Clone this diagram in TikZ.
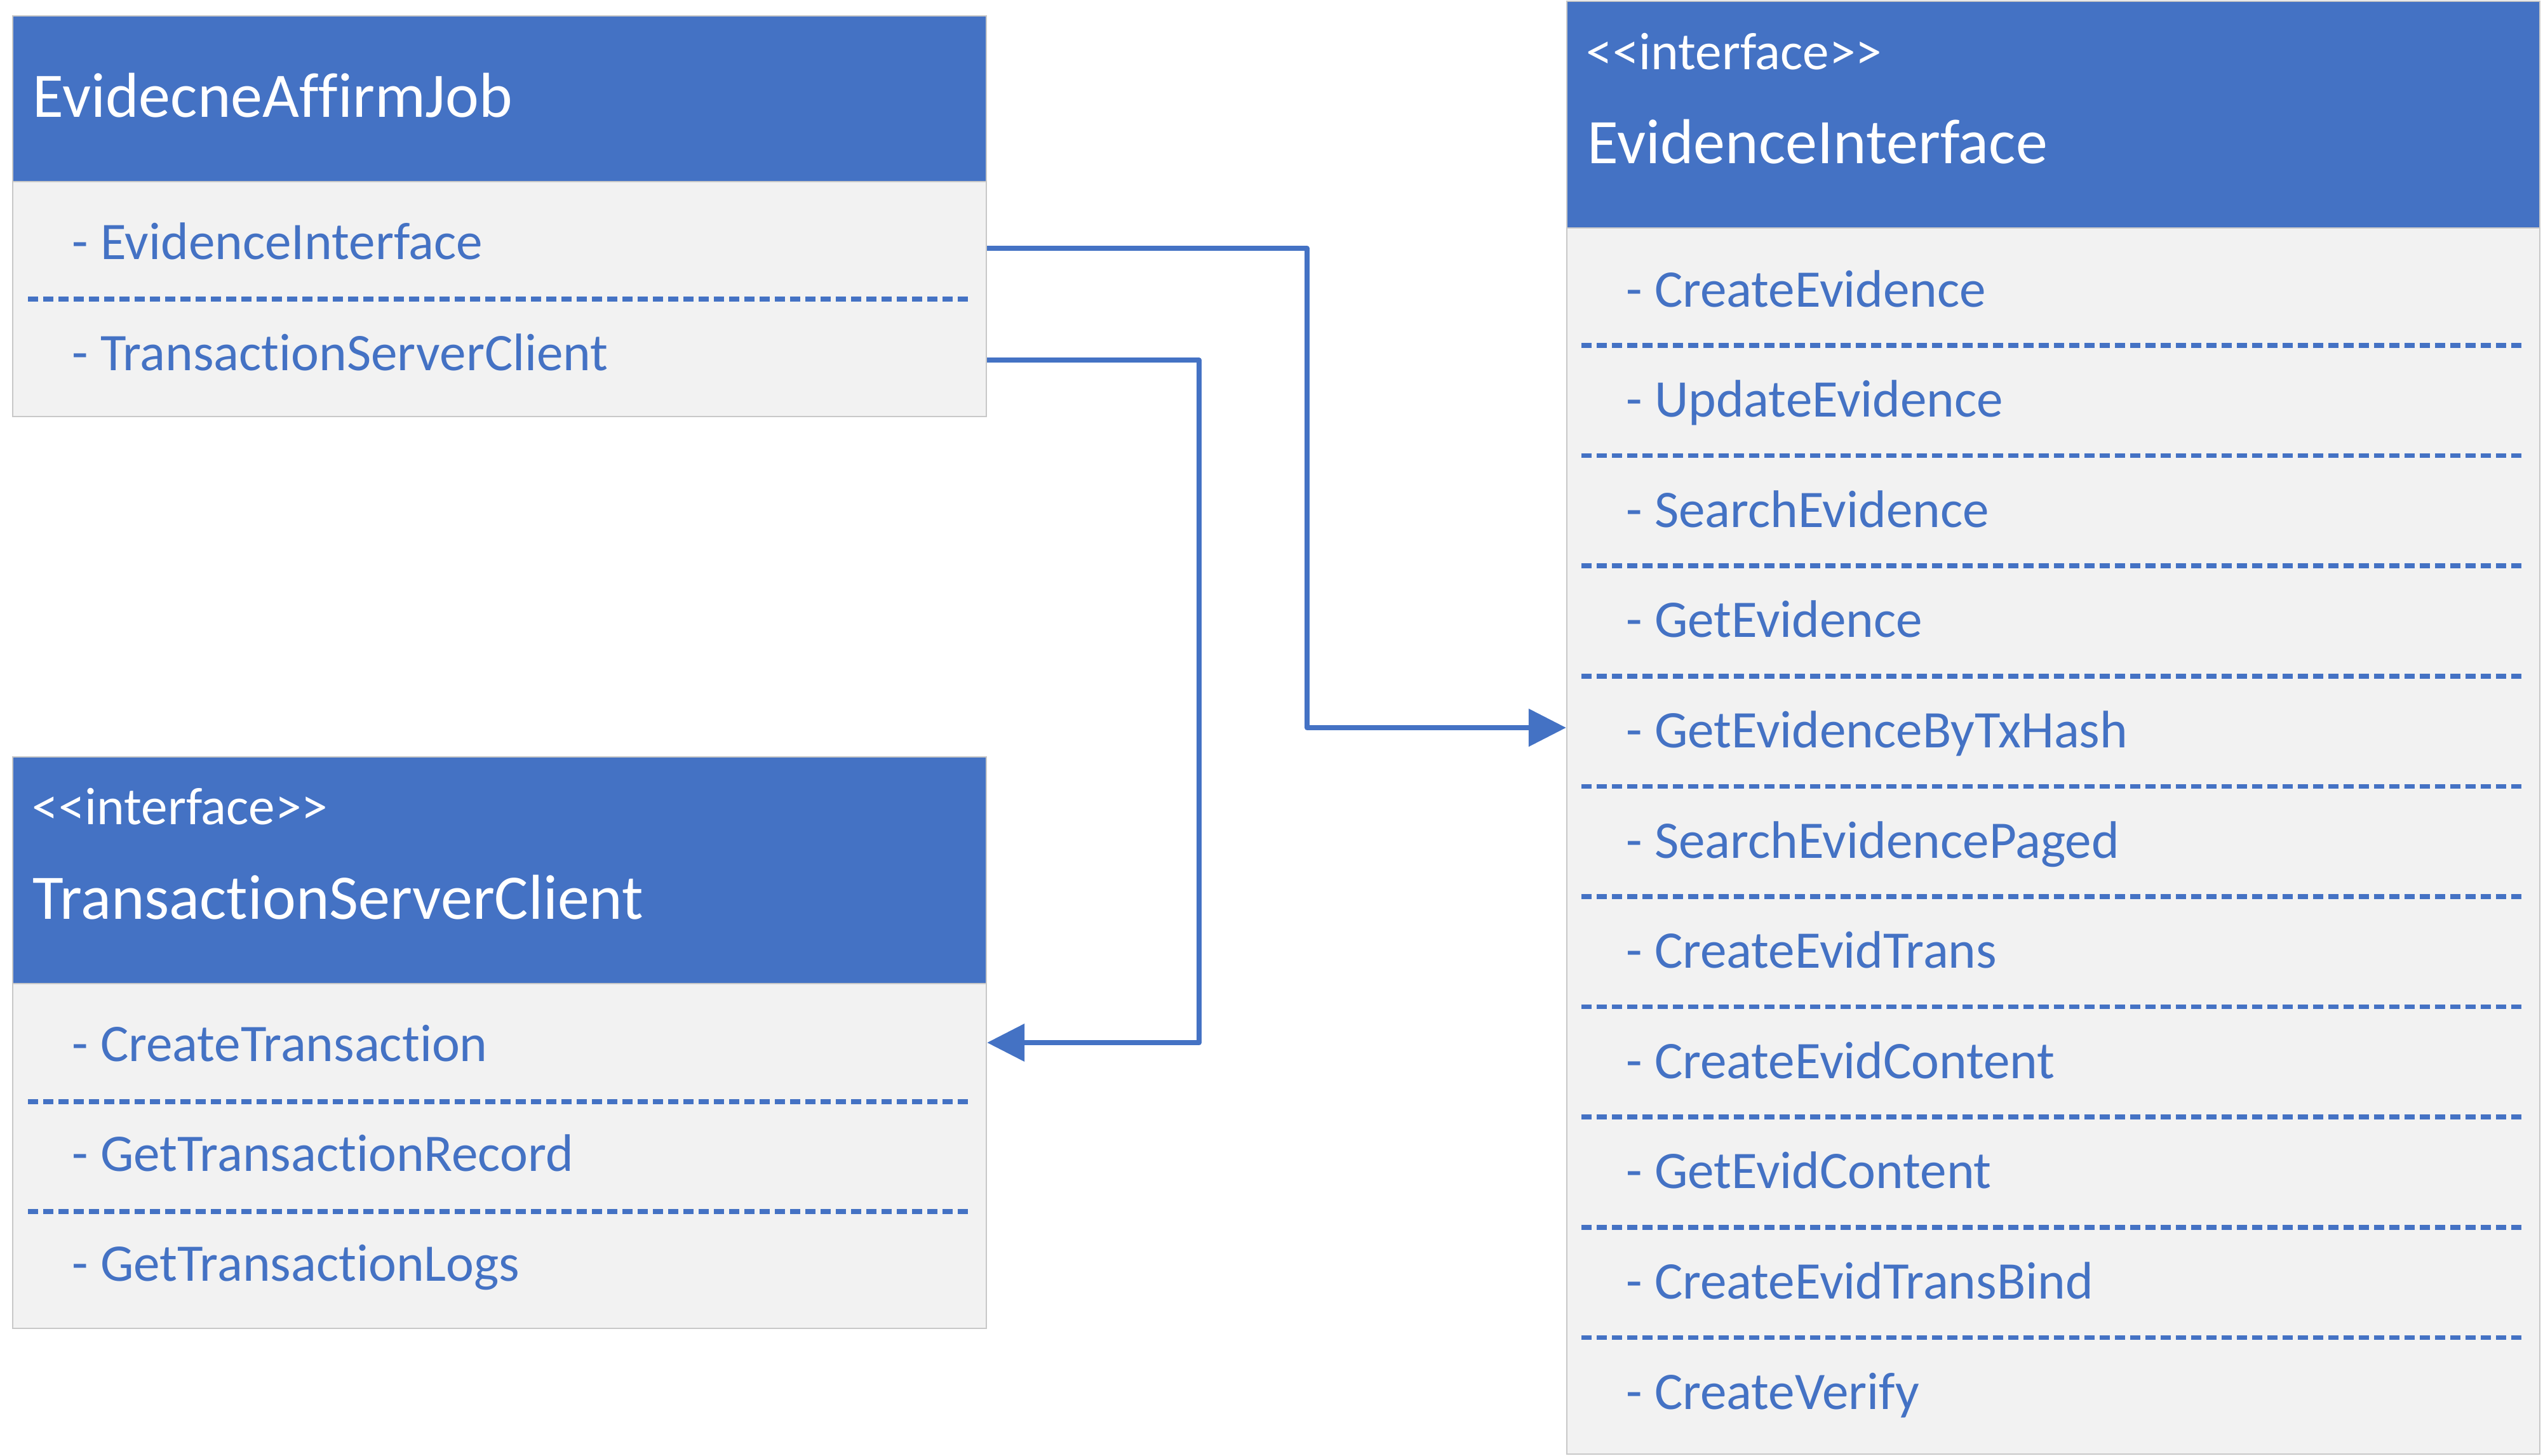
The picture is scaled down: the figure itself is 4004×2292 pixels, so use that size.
\documentclass[tikz,border=0pt]{standalone}
\usepackage{fontspec}
\setmainfont{Carlito}[RawFeature={-liga;-clig;-dlig;-rlig}]
\usetikzlibrary{arrows.meta,fit,calc}
\definecolor{ublue}{HTML}{4472C4}
\definecolor{ubody}{HTML}{F2F2F2}
\definecolor{uedge}{HTML}{C8C8C8}
\newcommand\nlg{\kern0pt}
\begin{document}
\begin{tikzpicture}[x=0.25pt,y=-0.25pt,
  hdr/.style={draw=uedge,line width=0.6pt,fill=ublue,inner sep=0pt},
  bodybox/.style={draw=uedge,line width=0.6pt,fill=ubody,inner sep=0pt},
  title/.style={anchor=base west,inner sep=0pt,text=white,font=\fontsize{25}{30}\selectfont},
  stereo/.style={anchor=base west,inner sep=0pt,text=white,font=\fontsize{20.8}{25}\selectfont},
  member/.style={anchor=base west,inner sep=0pt,text=ublue,font=\fontsize{20.8}{25}\selectfont},
  sep/.style={draw=ublue,line width=1.9pt,dash pattern=on 4pt off 2pt},
  conn/.style={draw=ublue,line width=2pt,line join=round,-{Triangle[length=14.75pt,width=14.5pt]}}]
\fill[white] (0,0) rectangle (4004,2292);
\useasboundingbox (0,0) rectangle (4004,2292);

% Box 1: EvidecneAffirmJob
\node[hdr, fit={(20,25) (1553,286)}] (h1) {};
\node[bodybox, fit={(20,286) (1553,656)}] (b1) {};
\node[title] (t1name) at (51,184) {EvidecneAf\nlg f\nlg irmJob};
\node[member] (m11) at (113,408) {- EvidenceInterface};
\node[member] (m12) at (113,583) {- Transac\nlg tionServerClient};
\draw[sep] (44,471) -- (1528,471);

% Box 2: TransactionServerClient
\node[hdr, fit={(20,1192) (1553,1549)}] (h2) {};
\node[bodybox, fit={(20,1549) (1553,2092)}] (b2) {};
\node[stereo] (s2) at (50,1298) {<\nlg<interface>\nlg>};
\node[title] (t2name) at (51,1447) {Transac\nlg tionServerClient};
\node[member] (m21) at (113,1671) {- CreateTransac\nlg tion};
\node[member] (m22) at (113,1844) {- GetTransac\nlg tionRecord};
\node[member] (m23) at (113,2017) {- GetTransac\nlg tionLogs};
\draw[sep] (44,1735) -- (1528,1735);
\draw[sep] (44,1908) -- (1528,1908);

% Box 3: EvidenceInterface
\node[hdr, fit={(2467,2) (3999,359)}] (h3) {};
\node[bodybox, fit={(2467,359) (3999,2290)}] (b3) {};
\node[stereo] (s3) at (2497,109) {<\nlg<interface>\nlg>};
\node[title] (t3name) at (2499,257) {EvidenceInterface};
\foreach \t [count=\i from 0] in {CreateEvidence,UpdateEvidence,SearchEvidence,GetEvidence,GetEvidenceByTxHash,SearchEvidencePaged,CreateEvidTrans,CreateEvidContent,GetEvidContent,CreateEvidTransBind,CreateVerify}{
  \node[member] (m3\i) at (2560,{483+173.6*\i}) {- \t};
}
\foreach \i in {0,...,9}{
  \draw[sep] (2490,{544+173.6*\i}) -- (3975,{544+173.6*\i});
}

% Connectors
\coordinate (ta) at (0,1146);
\coordinate (va) at (2058,0);
\coordinate (tb) at (0,1642);
\coordinate (vb) at (1888,0);
\coordinate (sa) at ($(b1.east |- m11.mid)+(0,-7)$);
\coordinate (sb) at ($(b1.east |- m12.mid)+(0,-6)$);
\draw[conn] (sa) -| (va |- ta) -- (b3.west |- ta);
\draw[conn] (sb) -| (vb |- tb) -- (b2.east |- tb);
\end{tikzpicture}
\end{document}
